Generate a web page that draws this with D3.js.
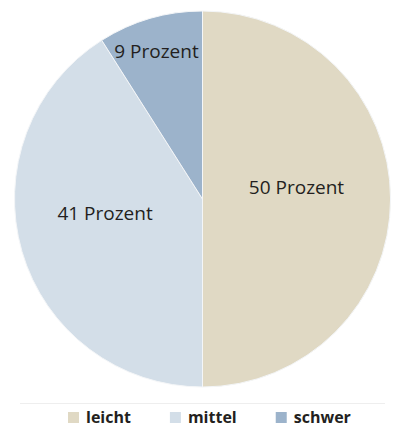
<!DOCTYPE html>
<html>
<head>
<meta charset="utf-8">
<script src="https://cdn.jsdelivr.net/npm/d3@7"></script>
<style>
  body { margin: 0; background: #fff; }
  svg { display: block; }
</style>
</head>
<body>
<svg id="chart"></svg>
<script>
// data
const categories = ["leicht", "mittel", "schwer"];
const values = [50, 41, 9];
const labels = ["50 Prozent", "41 Prozent", "9 Prozent"];
const colors = ["#e0d9c4", "#d3dee8", "#9cb3cb"];

const width = 403, height = 428;
const cx = 202.5, cy = 199, radius = 188;

const data = categories.map((c, i) => ({ cat: c, value: values[i], label: labels[i] }));

const svg = d3.select("#chart")
  .attr("width", width)
  .attr("height", height);

const color = d3.scaleOrdinal().domain(categories).range(colors);

const pie = d3.pie().sort(null).value(d => d.value);
const arc = d3.arc().innerRadius(0).outerRadius(radius);

const g = svg.append("g").attr("transform", `translate(${cx},${cy})`);

const arcs = pie(data);

g.selectAll("path")
  .data(arcs)
  .enter()
  .append("path")
  .attr("d", arc)
  .attr("fill", d => color(d.data.cat))
  .attr("stroke", "#f4f6f8")
  .attr("stroke-width", 1);

// small slices get their label further out
function labelPos(d) {
  const span = d.endAngle - d.startAngle;
  const r = span < 1 ? radius * 0.82 : (span > 3 ? radius * 0.5 : radius * 0.54);
  const a = (d.startAngle + d.endAngle) / 2;
  let x = r * Math.sin(a), y = -r * Math.cos(a);
  if (span > 3) y -= 12;
  else if (span > 1) y -= 14;
  else x -= 3;
  return [x, y];
}

g.selectAll("text.lbl")
  .data(arcs)
  .enter()
  .append("text")
  .attr("class", "lbl")
  .attr("x", d => labelPos(d)[0])
  .attr("y", d => labelPos(d)[1])
  .attr("text-anchor", "middle")
  .attr("dy", "0.35em")
  .style("font-family", "'Open Sans', sans-serif")
  .style("font-size", "19px")
  .style("fill", "#231f20")
  .text(d => d.data.label);

// faint separator above the legend
svg.append("line")
  .attr("x1", 20).attr("x2", 385)
  .attr("y1", 403.5).attr("y2", 403.5)
  .attr("stroke", "#eeeeee");

// legend
const legend = svg.append("g").attr("transform", "translate(68,423)");
let lx = 0;
categories.forEach(c => {
  const item = legend.append("g").attr("transform", `translate(${lx},0)`);
  item.append("rect")
    .attr("x", 0).attr("y", -11)
    .attr("width", 11).attr("height", 11)
    .attr("fill", color(c));
  const t = item.append("text")
    .attr("x", 18)
    .attr("y", 0)
    .style("font-family", "'Open Sans', sans-serif")
    .style("font-weight", "700")
    .style("font-size", "16px")
    .style("fill", "#231f20")
    .text(c);
  lx += 18 + t.node().getComputedTextLength() + 39;
});
</script>
</body>
</html>
